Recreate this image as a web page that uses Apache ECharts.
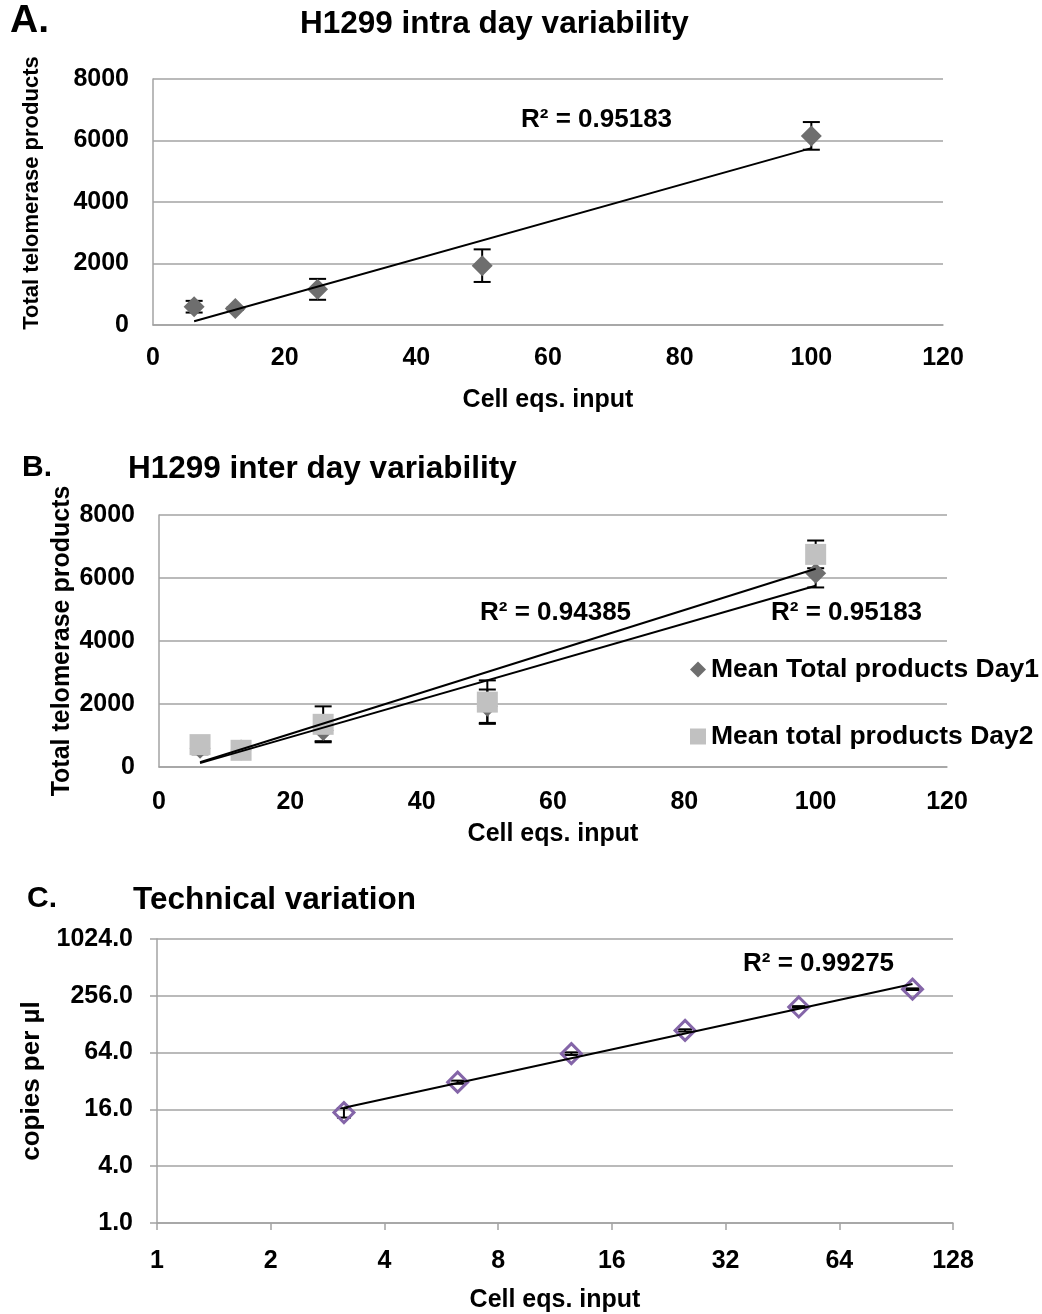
<!DOCTYPE html>
<html>
<head>
<meta charset="utf-8">
<script src="https://cdn.jsdelivr.net/npm/echarts@6/dist/echarts.min.js"></script>
<style>
html,body{margin:0;padding:0;background:#fff;}
#main{width:1042px;height:1314px;}
</style>
</head>
<body>
<div id="main"></div>
<script>
// ---------- data ----------
const cellEqs = [6.25, 12.5, 25, 50, 100];
const day1Mean = [595, 540, 1160, 1930, 6150];
const day1Err = [190, 40, 340, 530, 450];
const day2Mean = [710, 530, 1355, 2060, 6750];
const day2Err = [60, 40, 570, 690, 440];
const techInput = [3.125, 6.25, 12.5, 25, 50, 100];
const techCopies = [14.8, 31.1, 62.4, 110, 195, 301];
const techErr = [1.7, 1.2, 2.0, 3.0, 4.0, 6.0];
const panelTitles = ['H1299 intra day variability', 'H1299 inter day variability', 'Technical variation'];
const panelLetters = ['A.', 'B.', 'C.'];
const legendNames = ['Mean Total products Day1', 'Mean total products Day2'];
const r2Texts = ['R\u00b2 = 0.95183', 'R\u00b2 = 0.94385', 'R\u00b2 = 0.95183', 'R\u00b2 = 0.99275'];
const xTitle = 'Cell eqs. input';
const yTitleAB = 'Total telomerase products';
const yTitleC = 'copies per \u00b5l';

// ---------- helpers ----------
const FONT = '"Liberation Sans", Arial, sans-serif';
const GREY = '#a3a3a3';
function linFit(xs, ys) {
  const n = xs.length;
  const mx = xs.reduce((a, b) => a + b, 0) / n;
  const my = ys.reduce((a, b) => a + b, 0) / n;
  let sxy = 0, sxx = 0;
  for (let i = 0; i < n; i++) { sxy += (xs[i] - mx) * (ys[i] - my); sxx += (xs[i] - mx) * (xs[i] - mx); }
  const slope = sxy / sxx;
  return { slope, intercept: my - slope * mx };
}
function linearTrend(xs, ys) {
  const f = linFit(xs, ys);
  const x0 = Math.min(...xs), x1 = Math.max(...xs);
  return [[x0, f.intercept + f.slope * x0], [x1, f.intercept + f.slope * x1]];
}
function powerTrend(xs, ys) {
  const f = linFit(xs.map(Math.log), ys.map(Math.log));
  const x0 = Math.min(...xs), x1 = Math.max(...xs);
  return [[x0, Math.exp(f.intercept + f.slope * Math.log(x0))], [x1, Math.exp(f.intercept + f.slope * Math.log(x1))]];
}
function errSeries(xi, xs, means, errs, capHalf, z) {
  return {
    type: 'custom', xAxisIndex: xi, yAxisIndex: xi, z: z, silent: true,
    data: xs.map((x, i) => [x, means[i] - errs[i], means[i] + errs[i]]),
    encode: { x: 0, y: [1, 2] },
    renderItem: function (params, api) {
      const x = api.value(0);
      const t = api.coord([x, api.value(2)]);
      const b = api.coord([x, api.value(1)]);
      const s = { stroke: '#000', lineWidth: 2 };
      return {
        type: 'group', children: [
          { type: 'line', shape: { x1: t[0], y1: t[1], x2: b[0], y2: b[1] }, style: s },
          { type: 'line', shape: { x1: t[0] - capHalf, y1: t[1], x2: t[0] + capHalf, y2: t[1] }, style: s },
          { type: 'line', shape: { x1: b[0] - capHalf, y1: b[1], x2: b[0] + capHalf, y2: b[1] }, style: s }
        ]
      };
    }
  };
}
function trendSeries(xi, pts) {
  return {
    type: 'line', xAxisIndex: xi, yAxisIndex: xi, data: pts, showSymbol: false, silent: true, z: 5,
    lineStyle: { color: '#000', width: 2 }
  };
}
const tickLabel = { color: '#000', fontFamily: FONT, fontWeight: 'bold', fontSize: 25 };
const nameStyle = (fs, extra) => Object.assign({ color: '#000', fontFamily: FONT, fontWeight: 'bold', fontSize: fs }, extra || {});
const axisLine = { show: true, lineStyle: { color: GREY, width: 1.5 } };
const splitLine = { show: true, lineStyle: { color: GREY, width: 1.5 } };
const plain = v => String(Math.round(v));

const DAY1 = '#6e6e6e';
const DAY2 = '#c1c1c1';
const PURPLE = '#8465a8';
const titleStyle = fs => ({ fontFamily: FONT, fontWeight: 'bold', fontSize: fs, color: '#000' });

const chart = echarts.init(document.getElementById('main'), null, { renderer: 'canvas' });
chart.setOption({
  animation: false,
  backgroundColor: '#fff',
  title: [
    { text: panelLetters[0], left: 5, top: -3, textStyle: titleStyle(39) },
    { text: panelTitles[0], left: 295, top: 3, textStyle: titleStyle(31.5) },
    { text: panelLetters[1], left: 17, top: 448, textStyle: titleStyle(30) },
    { text: panelTitles[1], left: 123, top: 448, textStyle: titleStyle(31.5) },
    { text: panelLetters[2], left: 22, top: 879, textStyle: titleStyle(30) },
    { text: panelTitles[2], left: 128, top: 879, textStyle: titleStyle(31.5) }
  ],
  legend: {
    show: true, orient: 'vertical', left: 690, top: 656, itemGap: 40, selectedMode: false, padding: 0,
    itemWidth: 16, itemHeight: 16,
    textStyle: { color: '#000', fontFamily: FONT, fontWeight: 'bold', fontSize: 26.5, padding: [0, 0, 0, 0] },
    data: [
      { name: legendNames[0], icon: 'diamond' },
      { name: legendNames[1], icon: 'rect' }
    ]
  },
  grid: [
    { left: 153, top: 79, width: 790, height: 246 },
    { left: 159, top: 515, width: 788, height: 252 },
    { left: 157, top: 939, width: 796, height: 285 }
  ],
  xAxis: [
    { gridIndex: 0, type: 'value', min: 0, max: 120, interval: 20, axisLine, axisTick: { show: false }, splitLine: { show: false },
      axisLabel: Object.assign({ margin: 21, formatter: plain }, tickLabel),
      name: xTitle, nameLocation: 'middle', nameGap: 63, nameMoveOverlap: false, nameTextStyle: nameStyle(25) },
    { gridIndex: 1, type: 'value', min: 0, max: 120, interval: 20, axisLine, axisTick: { show: false }, splitLine: { show: false },
      axisLabel: Object.assign({ margin: 23, formatter: plain }, tickLabel),
      name: xTitle, nameLocation: 'middle', nameGap: 55, nameMoveOverlap: false, nameTextStyle: nameStyle(25) },
    { gridIndex: 2, type: 'log', logBase: 2, min: 1, max: 128, axisLine,
      axisTick: { show: true, inside: false, length: 7, lineStyle: { color: GREY, width: 1.5 } }, splitLine: { show: false },
      axisLabel: Object.assign({ margin: 26, formatter: plain }, tickLabel),
      name: xTitle, nameLocation: 'middle', nameGap: 65, nameMoveOverlap: false, nameTextStyle: nameStyle(25) }
  ],
  yAxis: [
    { gridIndex: 0, type: 'value', min: 0, max: 8000, interval: 2000, axisLine, axisTick: { show: false }, splitLine,
      axisLabel: Object.assign({ margin: 24, formatter: plain }, tickLabel),
      name: yTitleAB, nameLocation: 'middle', nameRotate: 90, nameGap: 110, nameMoveOverlap: false,
      nameTextStyle: nameStyle(22, { padding: [0, 0, 0, 18] }) },
    { gridIndex: 1, type: 'value', min: 0, max: 8000, interval: 2000, axisLine, axisTick: { show: false }, splitLine,
      axisLabel: Object.assign({ margin: 24, formatter: plain }, tickLabel),
      name: yTitleAB, nameLocation: 'middle', nameRotate: 90, nameGap: 84, nameMoveOverlap: false, nameTextStyle: nameStyle(25) },
    { gridIndex: 2, type: 'log', logBase: 4, min: 1, max: 1024, axisLine,
      axisTick: { show: true, inside: false, length: 7, lineStyle: { color: GREY, width: 1.5 } }, splitLine,
      axisLabel: Object.assign({ margin: 24, formatter: v => Number(v).toFixed(1) }, tickLabel),
      name: yTitleC, nameLocation: 'middle', nameRotate: 90, nameGap: 112, nameMoveOverlap: false, nameTextStyle: nameStyle(26) }
  ],
  graphic: [
    { type: 'text', left: 521, top: 107, style: { text: r2Texts[0], font: 'bold 26px ' + FONT, fill: '#000' } },
    { type: 'text', left: 480, top: 600, style: { text: r2Texts[1], font: 'bold 26px ' + FONT, fill: '#000' } },
    { type: 'text', left: 771, top: 600, style: { text: r2Texts[2], font: 'bold 26px ' + FONT, fill: '#000' } },
    { type: 'text', left: 743, top: 951, style: { text: r2Texts[3], font: 'bold 26px ' + FONT, fill: '#000' } }
  ],
  series: [
    // Panel A
    errSeries(0, cellEqs, day1Mean, day1Err, 8.5, 2),
    { type: 'scatter', name: 'Mean Total products', xAxisIndex: 0, yAxisIndex: 0, symbol: 'diamond', symbolSize: [21, 21], z: 3,
      itemStyle: { color: DAY1, opacity: 1 }, data: cellEqs.map((x, i) => [x, day1Mean[i]]) },
    trendSeries(0, linearTrend(cellEqs, day1Mean)),
    // Panel B
    errSeries(1, cellEqs, day1Mean, day1Err, 8.5, 2),
    errSeries(1, cellEqs, day2Mean, day2Err, 8.5, 2),
    { type: 'scatter', name: legendNames[0], xAxisIndex: 1, yAxisIndex: 1, symbol: 'diamond', symbolSize: [21, 21], z: 3,
      itemStyle: { color: DAY1, opacity: 1 }, data: cellEqs.map((x, i) => [x, day1Mean[i]]) },
    { type: 'scatter', name: legendNames[1], xAxisIndex: 1, yAxisIndex: 1, symbol: 'rect', symbolSize: [21, 21], z: 4,
      itemStyle: { color: DAY2, opacity: 1 }, data: cellEqs.map((x, i) => [x, day2Mean[i]]) },
    trendSeries(1, linearTrend(cellEqs, day1Mean)),
    trendSeries(1, linearTrend(cellEqs, day2Mean)),
    // Panel C
    errSeries(2, techInput, techCopies, techErr, 7, 2),
    { type: 'scatter', name: 'Technical', xAxisIndex: 2, yAxisIndex: 2, symbol: 'diamond', symbolSize: [20, 20], z: 3,
      itemStyle: { color: 'rgba(255,255,255,0)', borderColor: PURPLE, borderWidth: 3, opacity: 1 },
      data: techInput.map((x, i) => [x, techCopies[i]]) },
    trendSeries(2, powerTrend(techInput, techCopies))
  ]
});
</script>
</body>
</html>
